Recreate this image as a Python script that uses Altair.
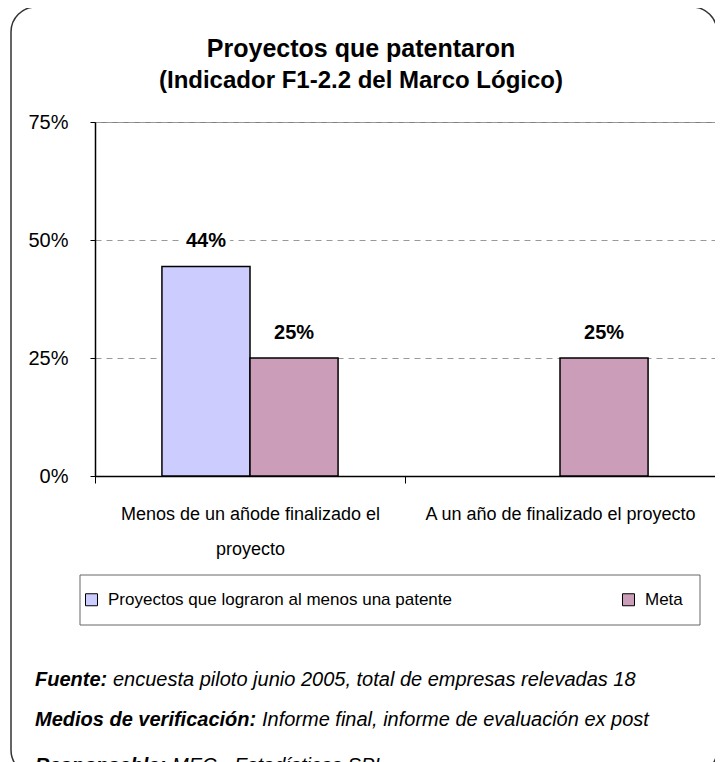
import altair as alt
import pandas as pd

categorias = ["Menos de un añode finalizado el proyecto", "A un año de finalizado el proyecto"]
series = ["Proyectos que lograron al menos una patente", "Meta"]
proyectos = [0.444, None]
meta = [0.25, 0.25]
y_ticks = [0, 0.25, 0.5, 0.75]
colores = ["#CCCCFF", "#CC9DB9"]

titulo = "Proyectos que patentaron"
subtitulo = "(Indicador F1-2.2 del Marco Lógico)"
notas_neg = ["Fuente:", "Medios de verificación:", "Responsable:"]
notas_txt = ["encuesta piloto junio 2005, total de empresas relevadas 18",
             "Informe final, informe de evaluación ex post",
             "MEC - Estadísticas SPI"]

FONT = "Liberation Sans"

rows = []
for c, p, m in zip(categorias, proyectos, meta):
    rows.append({"Categoria": c, "Serie": series[0], "Valor": p})
    rows.append({"Categoria": c, "Serie": series[1], "Valor": m})
df = pd.DataFrame(rows)

x_enc = alt.X(
    "Categoria:N", sort=categorias,
    scale=alt.Scale(domain=categorias, paddingInner=0, paddingOuter=0),
    axis=alt.Axis(
        title=None, labelAngle=0, tickBand="extent", tickSize=7, tickColor="black",
        domainColor="black", domainWidth=1.5, labelFontSize=18, labelColor="black",
        labelPadding=22, labelLineHeight=35, labelLimit=500, grid=False,
        labelExpr="datum.label == 'Menos de un añode finalizado el proyecto' ? ['Menos de un añode finalizado el', 'proyecto'] : datum.label",
    ),
)
xoff_enc = alt.XOffset(
    "Serie:N", sort=series,
    scale=alt.Scale(domain=series, paddingInner=0, paddingOuter=0.76),
)
y_enc = alt.Y(
    "Valor:Q",
    scale=alt.Scale(domain=[0, 0.75], nice=False),
    axis=alt.Axis(
        title=None, values=y_ticks, format=".0%", tickSize=5, tickColor="black",
        domainColor="black", domainWidth=1.5, labelFontSize=20, labelColor="black",
        labelPadding=22, grid=True, gridColor="#999999", gridDash=[6, 5], gridWidth=1,
    ),
)
color_enc = alt.Color(
    "Serie:N",
    scale=alt.Scale(domain=series, range=colores),
    legend=alt.Legend(
        title=None, orient="none", legendX=-12, legendY=469, direction="horizontal",
        symbolType="square", symbolSize=144, symbolStrokeColor="black",
        symbolStrokeWidth=1, symbolOpacity=1, labelFontSize=17, labelColor="black",
        labelLimit=600, labelOffset=8, columnPadding=167, padding=0,
    ),
)

base = alt.Chart(df).transform_filter("isValid(datum.Valor)")

bars = base.mark_bar(stroke="black", strokeWidth=1.5, opacity=1).encode(
    x=x_enc, xOffset=xoff_enc, y=y_enc, color=color_enc
)
halo = base.mark_text(dy=-25, fontSize=20, fontWeight="bold", color="white",
                      stroke="white", strokeWidth=9).encode(
    x=x_enc, xOffset=xoff_enc, y=y_enc, text=alt.Text("Valor:Q", format=".0%")
)
labels = base.mark_text(dy=-25, fontSize=20, fontWeight="bold", color="black").encode(
    x=x_enc, xOffset=xoff_enc, y=y_enc, text=alt.Text("Valor:Q", format=".0%")
)

one = pd.DataFrame({"k": [0]})

frame = alt.Chart(one).mark_rect(
    fillOpacity=0, stroke="#333333", strokeWidth=1.5, cornerRadius=25
).encode(x=alt.value(-84), x2=alt.value(622), y=alt.value(-115), y2=alt.value(653))

legend_box = alt.Chart(one).mark_rect(
    fill="white", stroke="#666666", strokeWidth=1
).encode(x=alt.value(-15), x2=alt.value(605), y=alt.value(453), y2=alt.value(503))

t1 = alt.Chart(pd.DataFrame({"t": [titulo]})).mark_text(
    fontSize=25, fontWeight="bold", color="black", align="center", baseline="middle"
).encode(x=alt.value(266), y=alt.value(-73), text="t:N")
t2 = alt.Chart(pd.DataFrame({"t": [subtitulo]})).mark_text(
    fontSize=24, fontWeight="bold", color="black", align="center", baseline="middle"
).encode(x=alt.value(266), y=alt.value(-41), text="t:N")

notas_layers = []
ys = [558, 598, 644]
xs_txt = [18, 167, 77]
for i in range(3):
    notas_layers.append(
        alt.Chart(pd.DataFrame({"t": [notas_neg[i]]})).mark_text(
            fontSize=20, fontWeight="bold", fontStyle="italic", color="black",
            align="left", baseline="middle"
        ).encode(x=alt.value(-60), y=alt.value(ys[i]), text="t:N")
    )
    notas_layers.append(
        alt.Chart(pd.DataFrame({"t": [notas_txt[i]]})).mark_text(
            fontSize=20, fontStyle="italic", color="black",
            align="left", baseline="middle"
        ).encode(x=alt.value(xs_txt[i]), y=alt.value(ys[i]), text="t:N")
    )

chart = alt.layer(frame, legend_box, bars, halo, labels, t1, t2, *notas_layers).properties(
    width=620, height=354,
    padding={"left": 87, "top": 114, "right": 0, "bottom": 304},
    autosize=alt.AutoSizeParams(type="none"),
).configure(font=FONT, background="white").configure_view(
    stroke="#808080", strokeWidth=1
)

chart.save("out.html", embed_options={"renderer": "svg", "actions": False})
